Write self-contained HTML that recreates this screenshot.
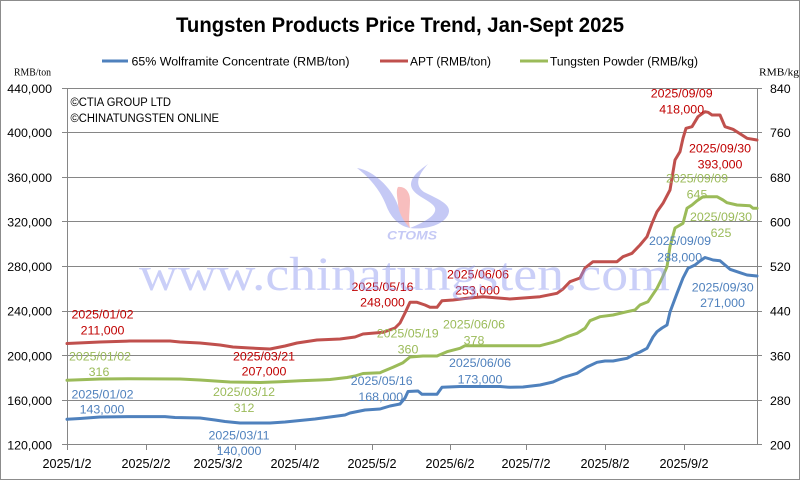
<!DOCTYPE html>
<html><head><meta charset="utf-8"><style>
html,body{margin:0;padding:0;background:#fff;}
svg{display:block;}
text{font-family:"Liberation Sans",Arial,sans-serif;}
</style></head><body>
<svg width="800" height="480" viewBox="0 0 800 480" xmlns="http://www.w3.org/2000/svg">
<rect x="0" y="0" width="800" height="480" fill="#fff"/>
<rect x="0.5" y="0.5" width="799" height="479" fill="none" stroke="#8c8c8c" stroke-width="1"/>

<!-- title -->
<text x="400" y="32" text-anchor="middle" font-size="21" font-weight="bold" fill="#000" textLength="448" lengthAdjust="spacingAndGlyphs">Tungsten Products Price Trend, Jan-Sept 2025</text>

<!-- legend -->
<line x1="102" y1="61" x2="128" y2="61" stroke="#4F81BD" stroke-width="3"/>
<text x="131.5" y="65.4" font-size="12.4" fill="#000" textLength="218" lengthAdjust="spacingAndGlyphs">65% Wolframite Concentrate (RMB/ton)</text>
<line x1="380" y1="61" x2="408" y2="61" stroke="#C0504D" stroke-width="3"/>
<text x="410" y="65.4" font-size="12.4" fill="#000" textLength="81" lengthAdjust="spacingAndGlyphs">APT (RMB/ton)</text>
<line x1="520" y1="61" x2="548" y2="61" stroke="#9BBB59" stroke-width="3"/>
<text x="550" y="65.4" font-size="12.4" fill="#000" textLength="148" lengthAdjust="spacingAndGlyphs">Tungsten Powder (RMB/kg)</text>

<!-- unit labels -->
<text x="14" y="75.5" font-size="10.5" fill="#000" style="font-family:'Liberation Serif',serif" textLength="37" lengthAdjust="spacingAndGlyphs">RMB/ton</text>
<text x="759" y="75.5" font-size="10.5" fill="#000" style="font-family:'Liberation Serif',serif" textLength="40" lengthAdjust="spacingAndGlyphs">RMB/kg</text>

<!-- gridlines -->
<g stroke="#868686" stroke-width="1">
<line x1="62" y1="88.5" x2="762" y2="88.5"/>
<line x1="62" y1="132.5" x2="762" y2="132.5"/>
<line x1="62" y1="177.5" x2="762" y2="177.5"/>
<line x1="62" y1="221.5" x2="762" y2="221.5"/>
<line x1="62" y1="266.5" x2="762" y2="266.5"/>
<line x1="62" y1="311.5" x2="762" y2="311.5"/>
<line x1="62" y1="355.5" x2="762" y2="355.5"/>
<line x1="62" y1="400.5" x2="762" y2="400.5"/>
<line x1="62" y1="444.5" x2="762" y2="444.5"/>
<line x1="67.5" y1="88" x2="67.5" y2="445"/>
<line x1="757.5" y1="88" x2="757.5" y2="445"/>
<!-- x ticks -->
<line x1="67.5" y1="445" x2="67.5" y2="450"/>
<line x1="146.5" y1="445" x2="146.5" y2="450"/>
<line x1="218.5" y1="445" x2="218.5" y2="450"/>
<line x1="295.5" y1="445" x2="295.5" y2="450"/>
<line x1="372.5" y1="445" x2="372.5" y2="450"/>
<line x1="450.5" y1="445" x2="450.5" y2="450"/>
<line x1="526.5" y1="445" x2="526.5" y2="450"/>
<line x1="605.5" y1="445" x2="605.5" y2="450"/>
<line x1="684.5" y1="445" x2="684.5" y2="450"/>
</g>

<!-- left axis labels -->
<g font-size="12.4" fill="#000" text-anchor="end">
<text x="52" y="93">440,000</text>
<text x="52" y="137.2">400,000</text>
<text x="52" y="181.9">360,000</text>
<text x="52" y="226.5">320,000</text>
<text x="52" y="271.1">280,000</text>
<text x="52" y="315.7">240,000</text>
<text x="52" y="360.3">200,000</text>
<text x="52" y="405">160,000</text>
<text x="52" y="449.6">120,000</text>
</g>
<!-- right axis labels -->
<g font-size="12.4" fill="#000" text-anchor="start">
<text x="770" y="93">840</text>
<text x="770" y="137.2">760</text>
<text x="770" y="181.9">680</text>
<text x="770" y="226.5">600</text>
<text x="770" y="271.1">520</text>
<text x="770" y="315.7">440</text>
<text x="770" y="360.3">360</text>
<text x="770" y="405">280</text>
<text x="770" y="449.6">200</text>
</g>
<!-- x labels -->
<g font-size="12.6" fill="#000" text-anchor="middle">
<text x="67" y="467.8">2025/1/2</text>
<text x="146" y="467.8">2025/2/2</text>
<text x="218" y="467.8">2025/3/2</text>
<text x="295" y="467.8">2025/4/2</text>
<text x="372" y="467.8">2025/5/2</text>
<text x="450" y="467.8">2025/6/2</text>
<text x="526" y="467.8">2025/7/2</text>
<text x="605" y="467.8">2025/8/2</text>
<text x="684" y="467.8">2025/9/2</text>
</g>

<!-- copyright -->
<text x="70.5" y="106" font-size="12.4" fill="#000" textLength="100.5" lengthAdjust="spacingAndGlyphs">©CTIA GROUP LTD</text>
<text x="70.5" y="122" font-size="12.4" fill="#000" textLength="148.5" lengthAdjust="spacingAndGlyphs">©CHINATUNGSTEN ONLINE</text>

<!-- series -->
<g fill="none" stroke-width="3" stroke-linejoin="round" stroke-linecap="round">
<polyline stroke="#4F81BD" points="67,419.3 80,418.5 100,417 130,416.6 165,416.6 175,417.5 200,418 215,420 225,421.5 240,423 270,423 285,422 300,420.5 315,419 330,417 345,415 350,413 365,410 380,409 390,406 400,404 405,398 408,391.5 418,391 422,394.3 437,394.3 442,387.3 460,386.5 500,386.5 510,387.3 523,387 540,385 553,382 563,377.5 577,373.3 587,367 597,362.3 605,361 613,361 627,358.3 633,355 640,352 647,348.3 653,337 657,331.7 662,328 667,325 670,312 677,293.3 683,278 688,268.3 695,265 700,261 705,257.5 710,259 713,260 720,260.7 730,269.3 740,272.7 747,275 757,276"/>
<polyline stroke="#C0504D" points="67,343.5 100,342 130,341 170,341 180,342 200,343 220,345 233,347 250,348 270,349 285,346 297,343 317,340 340,339 355,337 363,334 383,332.3 395,328 400,323 405,313 410,302.3 417,302.3 425,305 430,307.3 437,307.3 442,300.7 453,300 467,298.3 483,296.7 510,299 520,298.3 540,296.7 557,293.3 563,289 570,281.7 580,278 585,268 593,261.7 617,261.7 623,256.7 632,253.3 640,245 647,236.7 652,223.3 657,211.7 663,203.3 670,190 675,160 680,151.7 683,138.3 686,128.3 692,126.7 698,116.7 705,111.7 708,112.3 712,115 720,115 725,126.7 733,129.3 742,135 747,138.3 757,140"/>
<polyline stroke="#9BBB59" points="67,380.3 100,379 130,378.7 180,379 200,380 215,381 230,382 260,382.5 280,381.7 300,380.7 320,380 330,379.5 347,377.5 355,376 363,373.5 380,372.7 393,367.3 403,362.7 410,357 423,356 437,356 447,351.7 460,348.3 465,345.7 540,345.7 553,342.3 560,340 567,336.7 577,333.3 585,328.3 590,320.7 600,316.7 613,315 627,311.7 635,310 640,305 648,301.7 657,288.3 662,278.3 667,266.7 670,246.7 675,228 683,223.3 687,208.3 692,205 697,200.7 703,196.7 717,196.7 723,200 727,202.7 737,205 750,205.7 753,208.3 757,208.3"/>
</g>

<!-- annotations -->
<g font-size="12.4" text-anchor="middle">
<g fill="#C00000">
<text x="102.5" y="318.7">2025/01/02</text><text x="102.5" y="334.4">211,000</text>
<text x="264" y="360.4">2025/03/21</text><text x="264" y="375.4">207,000</text>
<text x="382.5" y="291.1">2025/05/16</text><text x="382.5" y="306.7">248,000</text>
<text x="478" y="278.7">2025/06/06</text><text x="477.5" y="294.4">253,000</text>
<text x="681.7" y="97.7">2025/09/09</text><text x="681.7" y="113.7">418,000</text>
<text x="720" y="152.7">2025/09/30</text><text x="720" y="168.4">393,000</text>
</g>
<g fill="#9BBB59">
<text x="100" y="360.4">2025/01/02</text><text x="99" y="376.1">316</text>
<text x="244" y="396.1">2025/03/12</text><text x="244" y="412.1">312</text>
<text x="407.7" y="337.7">2025/05/19</text><text x="408" y="353.4">360</text>
<text x="474" y="328.4">2025/06/06</text><text x="474" y="344.4">378</text>
<text x="697" y="182.7">2025/09/09</text><text x="697" y="198.4">645</text>
<text x="721" y="221.1">2025/09/30</text><text x="721" y="237.1">625</text>
</g>
<g fill="#4F81BD">
<text x="102.5" y="398.4">2025/01/02</text><text x="102" y="413.7">143,000</text>
<text x="239" y="439.4">2025/03/11</text><text x="239" y="455.1">140,000</text>
<text x="381.7" y="385.1">2025/05/16</text><text x="380.8" y="401.1">168,000</text>
<text x="480" y="367.1">2025/06/06</text><text x="480" y="383.4">173,000</text>
<text x="680" y="245.1">2025/09/09</text><text x="679.7" y="261.7">288,000</text>
<text x="722.7" y="291.7">2025/09/30</text><text x="722.5" y="307.1">271,000</text>
</g>
</g>

<!-- watermark overlay -->
<g opacity="0.45">
<path d="M357,168 C372,170 390,186 397,203 C401,214 405,222 410,228 C398,226 390,216 386,205 C380,190 370,178 357,168 Z" fill="#7f88ea"/>
<path d="M428,164 C418,175 414,185 424,192 C440,200 453,205 448,215 C443,225 426,230 410,228 C425,222 437,215 435,208 C432,200 412,196 411,185 C411,176 420,170 428,164 Z" fill="#7f88ea"/>
<path d="M398,187 C405,186 410,192 410,200 C410,210 408,220 410,228 C404,222 398,212 398,203 C397,196 396,190 398,187 Z" fill="#f07070"/>
<text x="412" y="239.5" font-size="11.5" font-weight="bold" font-style="italic" text-anchor="middle" fill="#7f88ea" textLength="50" lengthAdjust="spacingAndGlyphs">CTOMS</text>
<text x="139" y="290" font-size="48" fill="#8c96f0" style="font-family:'Liberation Serif',serif" textLength="531" lengthAdjust="spacingAndGlyphs">www.chinatungsten.com</text>
</g>
</svg>
</body></html>
